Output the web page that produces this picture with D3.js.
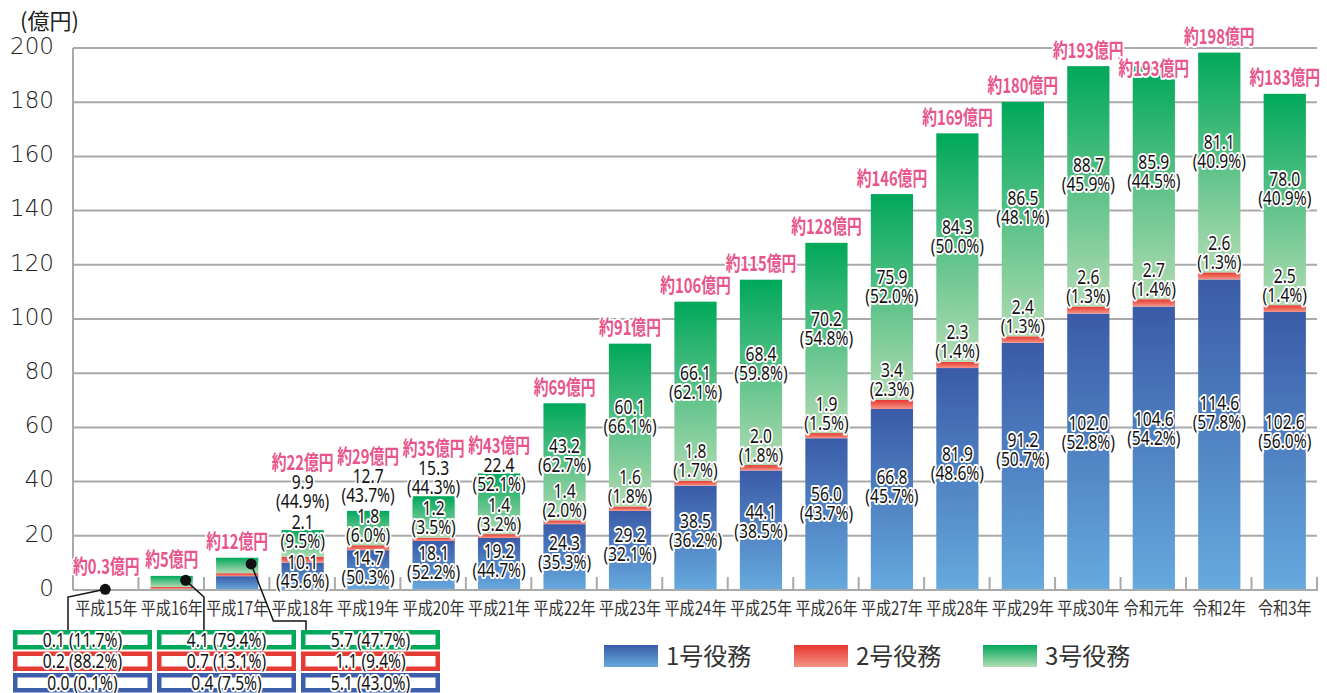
<!DOCTYPE html>
<html>
<head>
<meta charset="utf-8">
<script src="https://cdn.jsdelivr.net/npm/d3@7"></script>
<style>
    body { margin: 0; background: #fff; }
    svg { display: block; font-family: "Noto Sans", "Noto Sans CJK JP", sans-serif; }
    .halo { paint-order: stroke; stroke: #fff; stroke-width: 4px; stroke-linejoin: round; }
</style>
</head>
<body>
<svg id="chart" width="1327" height="693"></svg>
<script>
// years on the x axis
let years = ["平成15年", "平成16年", "平成17年", "平成18年", "平成19年", "平成20年", "平成21年",
    "平成22年", "平成23年", "平成24年", "平成25年", "平成26年", "平成27年", "平成28年",
    "平成29年", "平成30年", "令和元年", "令和2年", "令和3年"];

// amounts (億円) per duty type
let duty1 = [0.0, 0.4, 5.1, 10.1, 14.7, 18.1, 19.2, 24.3, 29.2, 38.5, 44.1, 56.0, 66.8, 81.9, 91.2, 102.0, 104.6, 114.6, 102.6];
let duty2 = [0.2, 0.7, 1.1, 2.1, 1.8, 1.2, 1.4, 1.4, 1.6, 1.8, 2.0, 1.9, 3.4, 2.3, 2.4, 2.6, 2.7, 2.6, 2.5];
let duty3 = [0.1, 4.1, 5.7, 9.9, 12.7, 15.3, 22.4, 43.2, 60.1, 66.1, 68.4, 70.2, 75.9, 84.3, 86.5, 88.7, 85.9, 81.1, 78.0];

// shares (%)
let pct1 = [0.1, 7.5, 43.0, 45.6, 50.3, 52.2, 44.7, 35.3, 32.1, 36.2, 38.5, 43.7, 45.7, 48.6, 50.7, 52.8, 54.2, 57.8, 56.0];
let pct2 = [88.2, 13.1, 9.4, 9.5, 6.0, 3.5, 3.2, 2.0, 1.8, 1.7, 1.8, 1.5, 2.3, 1.4, 1.3, 1.3, 1.4, 1.3, 1.4];
let pct3 = [11.7, 79.4, 47.7, 44.9, 43.7, 44.3, 52.1, 62.7, 66.1, 62.1, 59.8, 54.8, 52.0, 50.0, 48.1, 45.9, 44.5, 40.9, 40.9];

let totalLabels = ["約0.3億円", "約5億円", "約12億円", "約22億円", "約29億円", "約35億円", "約43億円",
    "約69億円", "約91億円", "約106億円", "約115億円", "約128億円", "約146億円", "約169億円",
    "約180億円", "約193億円", "約193億円", "約198億円", "約183億円"];

let yTicks = [0, 20, 40, 60, 80, 100, 120, 140, 160, 180, 200];
let legendNames = ["1号役務", "2号役務", "3号役務"];

// colours: [top, bottom] of each gradient, and a solid for the callout boxes
let gradStops = [["#3a5ba8", "#66aade"], ["#e8362f", "#f39486"], ["#00a85a", "#b2dbb3"]];
let solid = ["#3d5fab", "#e63b35", "#00a85a"];

const svg = d3.select("#chart");

const x = d3.scaleBand().domain(years).range([73, 1317]);
const y = d3.scaleLinear().domain([0, 200]).range([590, 48]);
const bw = x.bandwidth();
const barW = bw * 0.645;
const cx = d => x(d) + bw / 2 + 0.5;

let defs = svg.append("defs");
gradStops.forEach((s, i) => {
    let g = defs.append("linearGradient").attr("id", "grad" + i)
        .attr("x1", 0).attr("y1", 0).attr("x2", 0).attr("y2", 1);
    g.append("stop").attr("offset", "0%").attr("stop-color", s[0]);
    g.append("stop").attr("offset", "100%").attr("stop-color", s[1]);
});

// gridlines + axes
svg.append("g").selectAll("line")
    .data(yTicks.filter(d => d > 0))
    .join("line")
    .attr("x1", 73).attr("x2", 1317)
    .attr("y1", d => y(d)).attr("y2", d => y(d))
    .attr("stroke", "#a9a9a9").attr("stroke-width", 2);

svg.append("line").attr("x1", 73).attr("x2", 73).attr("y1", y(200)).attr("y2", y(0))
    .attr("stroke", "#a9a9a9").attr("stroke-width", 2);

let yAxis = svg.append("g")
    .attr("transform", "translate(54,-2)")
    .call(d3.axisLeft(y).tickValues(yTicks).tickSize(0).tickPadding(0));
yAxis.select(".domain").remove();
yAxis.selectAll("text")
    .attr("font-family", "'DejaVu Sans', sans-serif")
    .attr("font-weight", 200)
    .attr("font-size", 23)
    .attr("fill", "#222");

svg.append("text").attr("x", 20).attr("y", 29)
    .attr("font-family", "'Noto Sans CJK JP', sans-serif")
    .attr("font-size", 22).attr("fill", "#222")
    .text("(億円)");

// stacked bars
let rows = years.map((yr, i) => ({ year: yr, d1: duty1[i], d2: duty2[i], d3: duty3[i] }));
let stack = d3.stack().keys(["d1", "d2", "d3"])(rows);

svg.append("g").selectAll("g")
    .data(stack)
    .join("g")
    .attr("fill", (d, i) => `url(#grad${i})`)
    .selectAll("rect")
    .data(d => d.filter(p => p[1] - p[0] > 0))
    .join("rect")
    .attr("x", p => cx(p.data.year) - barW / 2)
    .attr("width", barW)
    .attr("y", p => y(p[1]))
    .attr("height", p => y(p[0]) - y(p[1]));

// baseline + ticks between categories
svg.append("line").attr("x1", 73).attr("x2", 1318).attr("y1", y(0)).attr("y2", y(0))
    .attr("stroke", "#a9a9a9").attr("stroke-width", 2);
svg.append("g").selectAll("line")
    .data(years.slice(1).map(d => x(d)).concat([1317]))
    .join("line")
    .attr("x1", d => d).attr("x2", d => d)
    .attr("y1", y(0)).attr("y2", y(0) - 13)
    .attr("stroke", "#a9a9a9").attr("stroke-width", 2);

// x labels
svg.append("g").selectAll("text")
    .data(years)
    .join("text")
    .attr("transform", d => `translate(${cx(d)},615) scale(0.84,1)`)
    .attr("text-anchor", "middle")
    .attr("font-family", "'Noto Sans CJK JP', sans-serif")
    .attr("font-size", 18)
    .attr("fill", "#333")
    .text(d => d);

// two-line halo labels
const lblG = svg.append("g");
function twoLine(xc, yc, a, b) {
    let g = lblG.append("g").attr("transform", `translate(${xc},${yc}) scale(0.78,1)`);
    [a, b].forEach((t, k) => {
        g.append("text").attr("class", "halo")
            .attr("y", (k ? 9.5 : -9.5) + 7)
            .attr("text-anchor", "middle")
            .attr("font-size", 20)
            .attr("fill", "#111")
            .text(t);
    });
}

let prevCt = null;
rows.forEach((r, i) => {
    let total = r.d1 + r.d2 + r.d3;
    let ct;
    if (i >= 3) {
        let c1 = Math.min(y(r.d1 * 0.57), 571);
        let c2 = Math.min(y(r.d1 + r.d2) - 20, c1 - 40);
        let c3 = Math.min(y(r.d1 + r.d2 + r.d3 * 0.55), c2 - 40);
        ct = Math.min(y(total) - 16, c3 - 29);
        // two equal totals side by side: drop the second one a line
        if (prevCt !== null && Math.abs(ct - prevCt) < 1.5) ct = prevCt + 18;
        prevCt = ct;
        twoLine(cx(r.year), c1, r.d1.toFixed(1), `(${pct1[i].toFixed(1)}%)`);
        twoLine(cx(r.year), c2, r.d2.toFixed(1), `(${pct2[i].toFixed(1)}%)`);
        twoLine(cx(r.year), c3, r.d3.toFixed(1), `(${pct3[i].toFixed(1)}%)`);
    } else {
        ct = Math.min(y(total) - 16, 566);
    }
    lblG.append("text").attr("class", "halo")
        .attr("transform", `translate(${cx(r.year)},${ct + 7.5}) scale(0.74,1)`)
        .attr("text-anchor", "middle")
        .attr("font-family", "'Noto Sans CJK JP', sans-serif")
        .attr("font-weight", 700)
        .attr("font-size", 20)
        .attr("fill", "#e8548c")
        .text(totalLabels[i]);
});

// callouts for the three smallest bars
const boxW = 139, boxStep = 144, boxTop = 630;
[0, 1, 2].forEach(i => {
    let r = rows[i];
    let bx = 13 + i * boxStep;
    let dotX = cx(r.year) + (i ? barW * 0.33 : -1);
    let dotY = y(r.d1 + r.d2 + r.d3 * 0.6);
    let pts;
    if (i == 0) pts = [[dotX, dotY], [x(years[0]) - 5, y(0) + 7], [x(years[0]) - 5, boxTop]];
    else if (i == 1) pts = [[dotX, dotY], [x(years[2]), y(0) + 7], [x(years[2]), boxTop]];
    else pts = [[dotX, dotY], [x(years[3]) + 4, y(0) + 31], [bx + 5, y(0) + 31], [bx + 5, boxTop]];
    svg.append("path").attr("d", d3.line()(pts))
        .attr("fill", "none").attr("stroke", "#111").attr("stroke-width", 1.5);
    svg.append("circle").attr("cx", dotX).attr("cy", dotY).attr("r", 5.5).attr("fill", "#111");

    let boxRows = [
        [2, r.d3, pct3[i]],
        [1, r.d2, pct2[i]],
        [0, r.d1, pct1[i]]
    ];
    boxRows.forEach((b, k) => {
        let top = boxTop + k * 21.5;
        svg.append("rect")
            .attr("x", bx + 2.25).attr("y", top + 2.25)
            .attr("width", boxW - 4.5).attr("height", 15)
            .attr("fill", "#fff").attr("stroke", solid[b[0]]).attr("stroke-width", 4.5);
        svg.append("text").attr("class", "halo")
            .attr("transform", `translate(${bx + boxW / 2},${top + 16.5}) scale(0.78,1)`)
            .attr("text-anchor", "middle")
            .attr("font-size", 20)
            .attr("fill", "#111")
            .text(`${b[1].toFixed(1)} (${b[2].toFixed(1)}%)`);
    });
});

// legend
let legX = [604, 794, 983];
let leg = svg.append("g").selectAll("g")
    .data(legendNames)
    .join("g")
    .attr("transform", (d, i) => `translate(${legX[i]},645)`);
leg.append("rect").attr("width", 54).attr("height", 22)
    .attr("fill", (d, i) => `url(#grad${i})`);
leg.append("text").attr("x", 62).attr("y", 20)
    .attr("font-family", "'Noto Sans CJK JP', sans-serif")
    .attr("font-size", 24)
    .attr("fill", "#333")
    .text(d => d);
</script>
</body>
</html>
